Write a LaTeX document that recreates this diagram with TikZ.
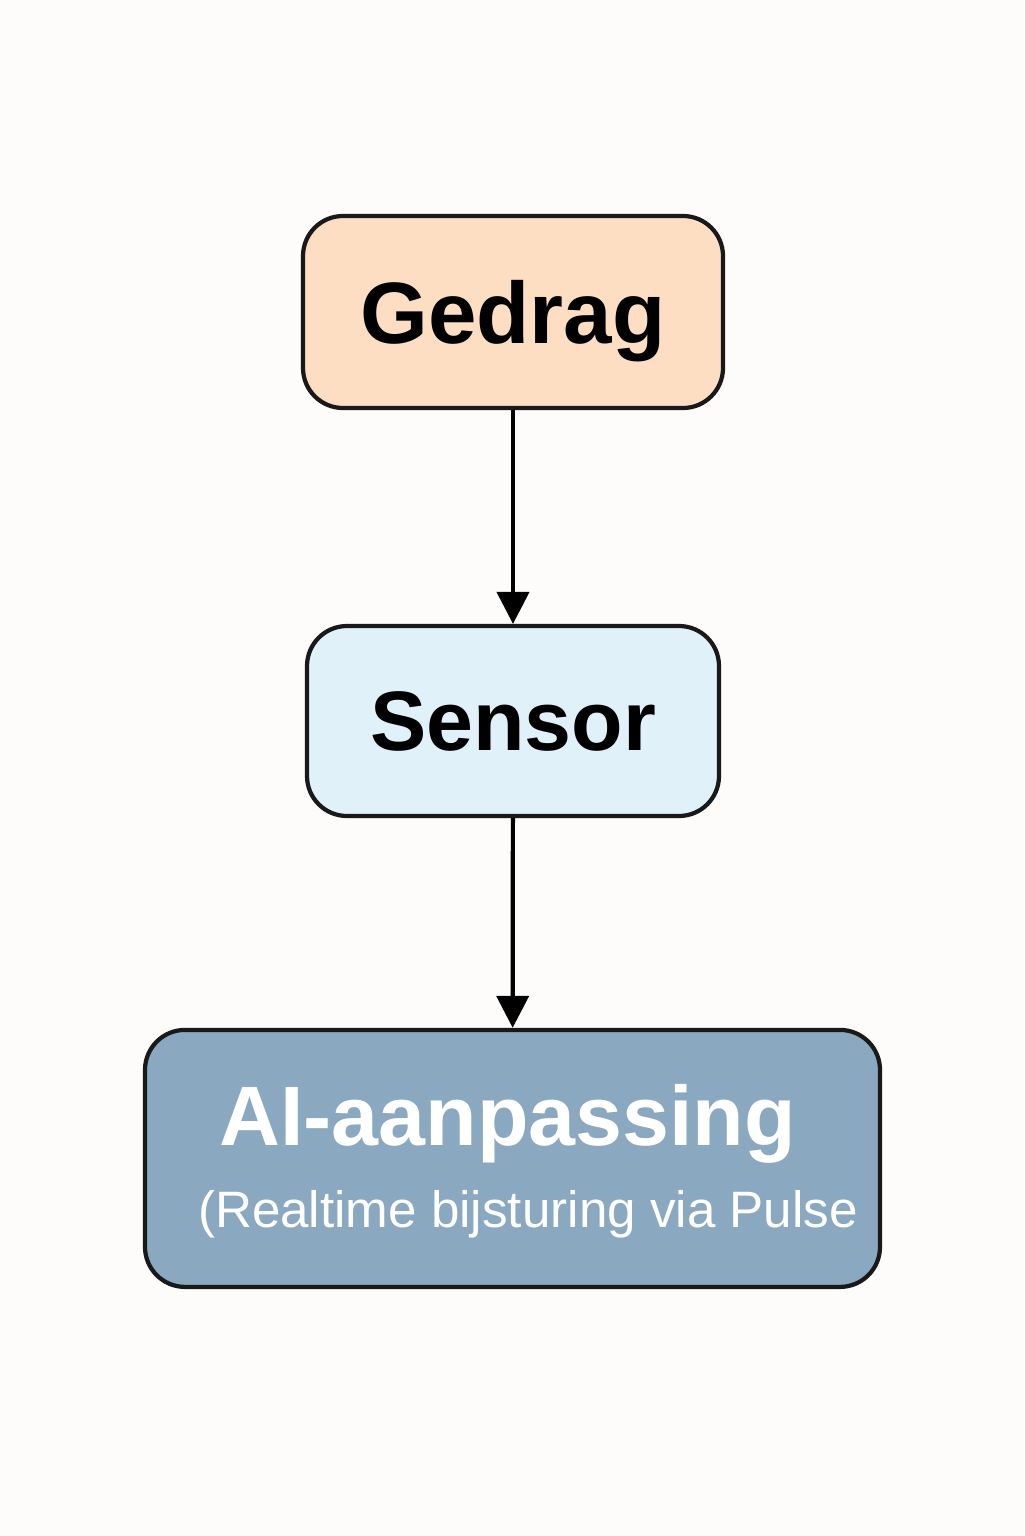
\documentclass[tikz,border=0pt]{standalone}
\usepackage{fontspec}
\setmainfont{Liberation Sans}
\usetikzlibrary{arrows.meta}

\definecolor{paper}{HTML}{FDFCFA}
\definecolor{peach}{HTML}{FDDEC3}
\definecolor{paleblue}{HTML}{E0F1F9}
\definecolor{steelblue}{HTML}{8AA9C1}

\begin{document}
\begin{tikzpicture}[
    flowbox/.style={draw=black!90, line width=3pt, rounded corners=1cm, inner sep=0pt, text depth=0pt},
    flowarrow/.style={line width=3pt, -{Triangle[length=0.8cm, width=0.8cm]}}
  ]

    \fill[paper] (0,0) rectangle (25.6,-38.4);

    \node[flowbox, fill=peach, minimum width=10.5cm, minimum height=4.8cm,
          font=\fontsize{62}{70}\selectfont\bfseries] (gedrag) at (12.825,-7.8) {Gedrag};

    \node[flowbox, fill=paleblue, minimum width=10.3cm, minimum height=4.75cm,
          font=\fontsize{60}{70}\selectfont\bfseries] (sensor) at (12.825,-18.025) {Sensor};

    \node[flowbox, fill=steelblue, minimum width=18.375cm, minimum height=6.425cm] (ai) at (12.8125,-28.96) {};
    \node[anchor=base, text=white, font=\fontsize{60}{70}\selectfont\bfseries] (aititle) at (12.69,-28.625) {AI-aanpassing};
    \node[anchor=base, text=white, font=\fontsize{36.4}{40}\selectfont] (aisub) at (13.2,-30.675) {(Realtime bijsturing via Pulse};

    \draw[flowarrow] (gedrag) -- (sensor);
    \draw[flowarrow] (sensor) -- (ai);

\end{tikzpicture}
\end{document}
